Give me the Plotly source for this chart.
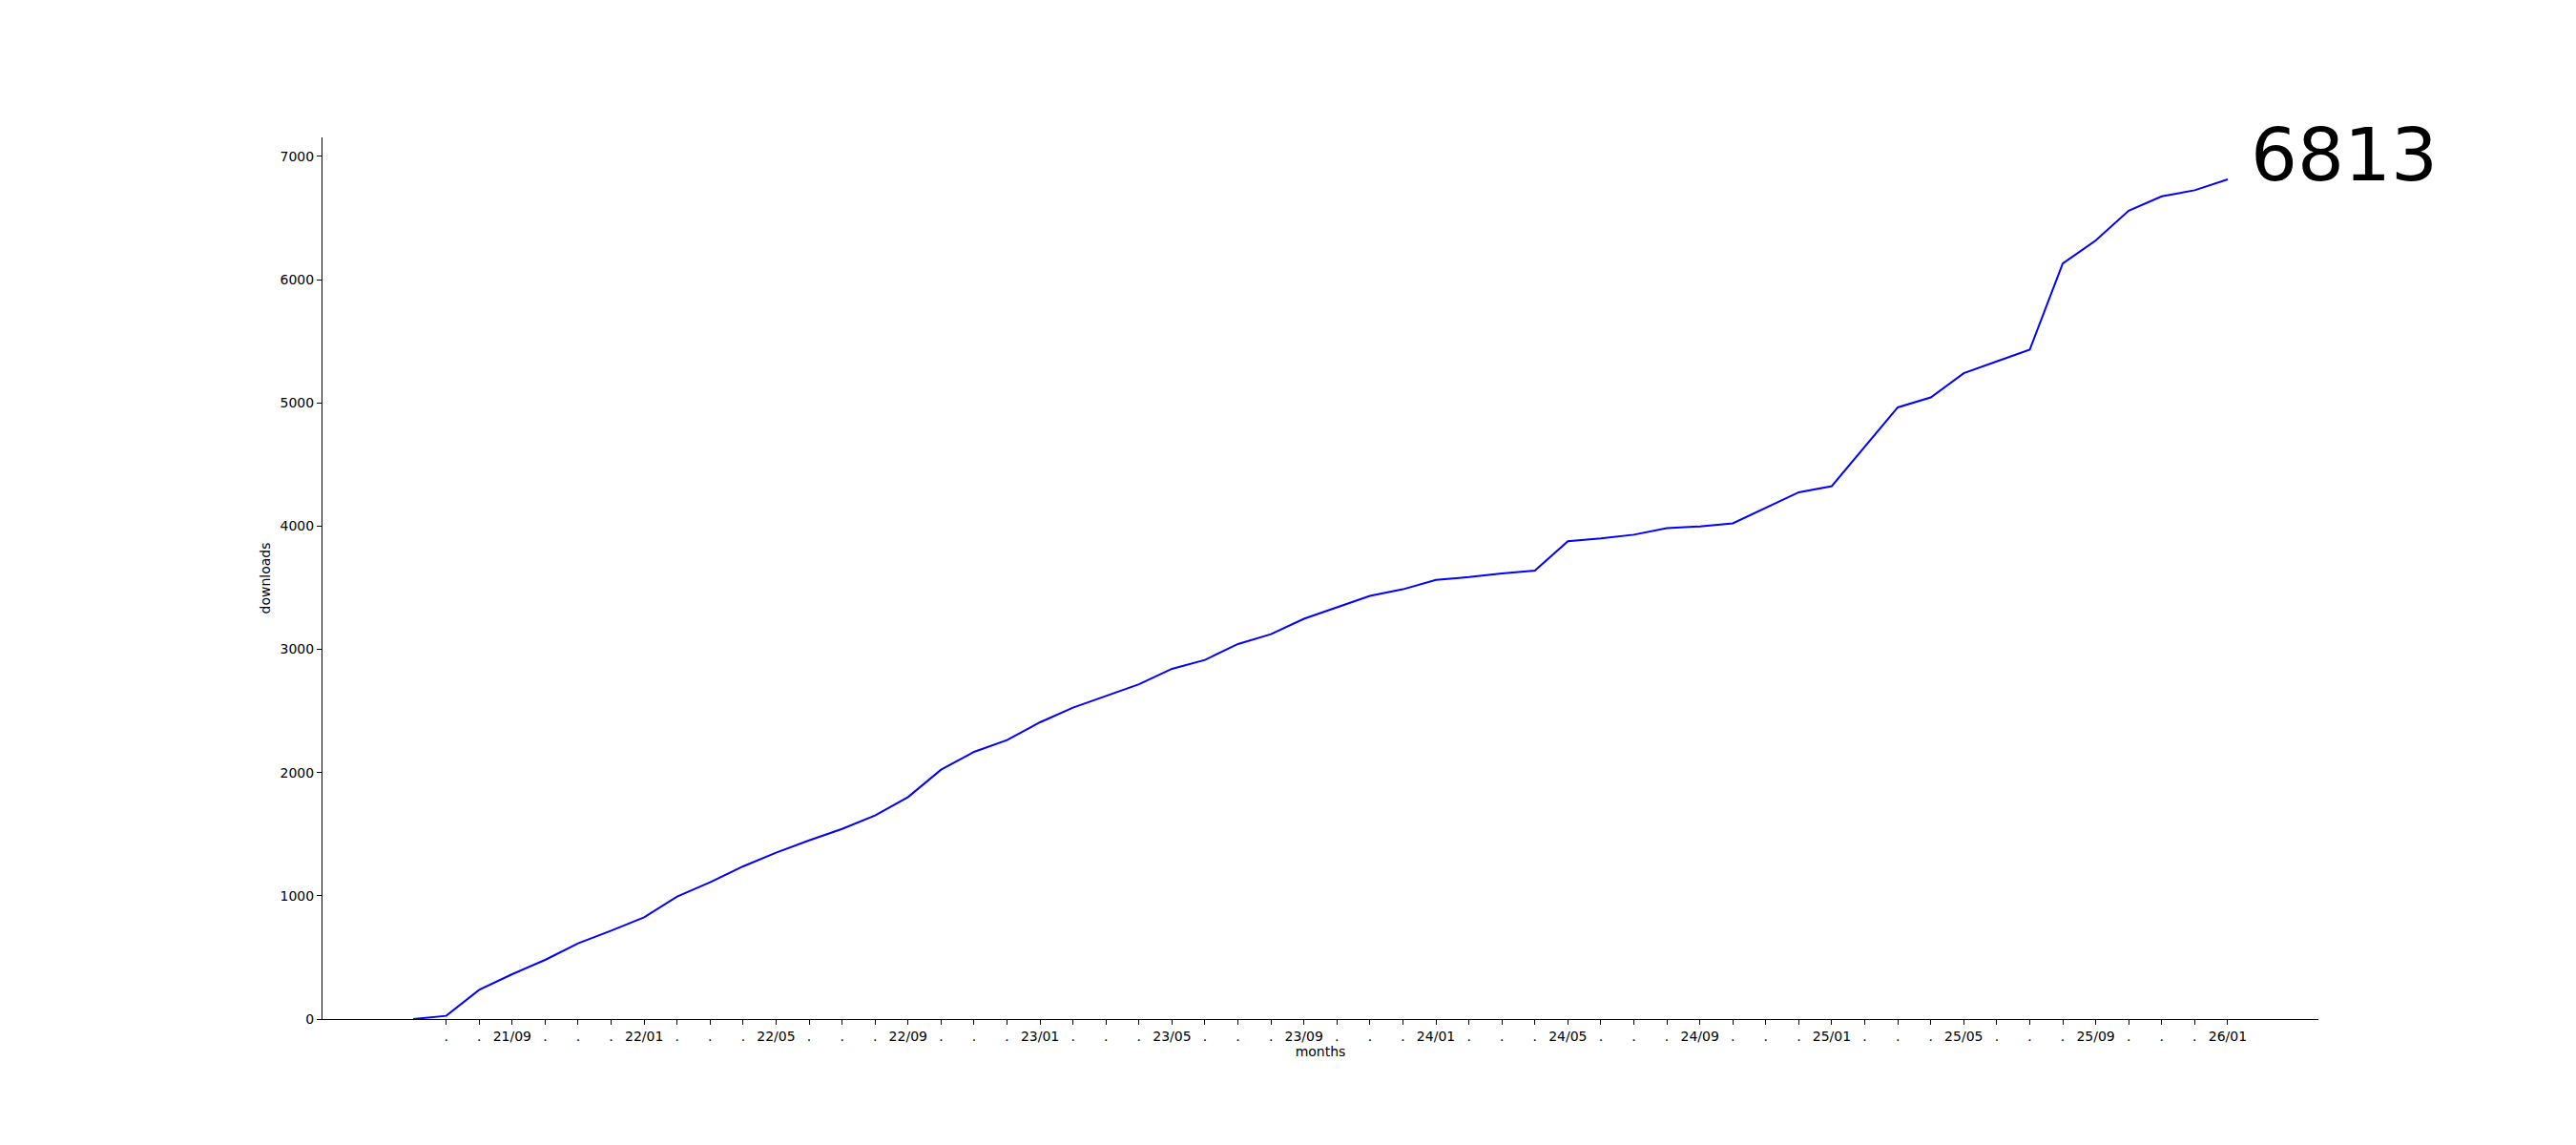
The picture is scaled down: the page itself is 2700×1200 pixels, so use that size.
import plotly.graph_objects as go

months = [
    "21/06", "21/07", "21/08", "21/09", "21/10", "21/11", "21/12",
    "22/01", "22/02", "22/03", "22/04", "22/05", "22/06", "22/07", "22/08", "22/09", "22/10", "22/11", "22/12",
    "23/01", "23/02", "23/03", "23/04", "23/05", "23/06", "23/07", "23/08", "23/09", "23/10", "23/11", "23/12",
    "24/01", "24/02", "24/03", "24/04", "24/05", "24/06", "24/07", "24/08", "24/09", "24/10", "24/11", "24/12",
    "25/01", "25/02", "25/03", "25/04", "25/05", "25/06", "25/07", "25/08", "25/09", "25/10", "25/11", "25/12",
    "26/01",
]

downloads = [
    0, 26, 237, 364, 480, 614, 717, 826, 994, 1110,
    1239, 1350, 1450, 1543, 1652, 1801, 2023, 2168, 2263, 2408,
    2527, 2623, 2716, 2842, 2914, 3043, 3123, 3248, 3341, 3434,
    3487, 3563, 3586, 3616, 3639, 3877, 3900, 3930, 3983, 3997,
    4022, 4148, 4274, 4324, 4641, 4963, 5044, 5240, 5336, 5431,
    6131, 6317, 6559, 6675, 6725, 6813,
]

# tick labels for ticks at month index 1..55 (first month has no tick)
tick_labels = [
    ".", ".", "21/09", ".", ".", ".",
    "22/01", ".", ".", ".", "22/05", ".", ".", ".", "22/09", ".", ".", ".",
    "23/01", ".", ".", ".", "23/05", ".", ".", ".", "23/09", ".", ".", ".",
    "24/01", ".", ".", ".", "24/05", ".", ".", ".", "24/09", ".", ".", ".",
    "25/01", ".", ".", ".", "25/05", ".", ".", ".", "25/09", ".", ".", ".",
    "26/01",
]

y_ticks = [0, 1000, 2000, 3000, 4000, 5000, 6000, 7000]

x_idx = list(range(len(months)))
tick_pos = list(range(1, len(months)))
last_val = downloads[-1]

FONT = "DejaVu Sans"

fig = go.Figure()
fig.add_trace(go.Scatter(
    x=x_idx, y=downloads, mode="lines",
    line=dict(color="#0000ff", width=2),
    customdata=months,
    hovertemplate="%{customdata}: %{y}<extra></extra>",
    showlegend=False,
))

fig.add_annotation(
    x=x_idx[-1], y=last_val, xref="x", yref="y",
    text=str(last_val), showarrow=False,
    xanchor="left", yanchor="middle", xshift=22, yshift=26,
    font=dict(family=FONT, size=77, color="black"),
)

# page body has an 8px margin, so the figure is made 8px smaller to keep
# the plot area where the reference has it
fig.update_layout(
    width=2692, height=1192,
    margin=dict(l=330, r=270, t=136, b=132),
    paper_bgcolor="white", plot_bgcolor="white",
    font=dict(family=FONT, size=14, color="black"),
    showlegend=False,
)

fig.update_xaxes(
    range=[-2.75, len(months) - 1 + 2.75],
    tickmode="array", tickvals=tick_pos, ticktext=tick_labels,
    ticks="outside", ticklen=5, tickwidth=1.1, tickcolor="black",
    showline=True, linecolor="black", linewidth=1.1,
    showgrid=False, zeroline=False,
    tickfont=dict(family=FONT, size=14),
    tickangle=0,
    title=dict(text="months", font=dict(family=FONT, size=14), standoff=4),
)
fig.update_yaxes(
    range=[0, last_val * 1.05],
    tickmode="array", tickvals=y_ticks, ticktext=[str(v) for v in y_ticks],
    ticks="outside", ticklen=5, tickwidth=1.1, tickcolor="black",
    showline=True, linecolor="black", linewidth=1.1,
    showgrid=False, zeroline=False,
    tickfont=dict(family=FONT, size=14),
    title=dict(text="downloads", font=dict(family=FONT, size=14), standoff=6),
)

fig.write_html("out.html")
